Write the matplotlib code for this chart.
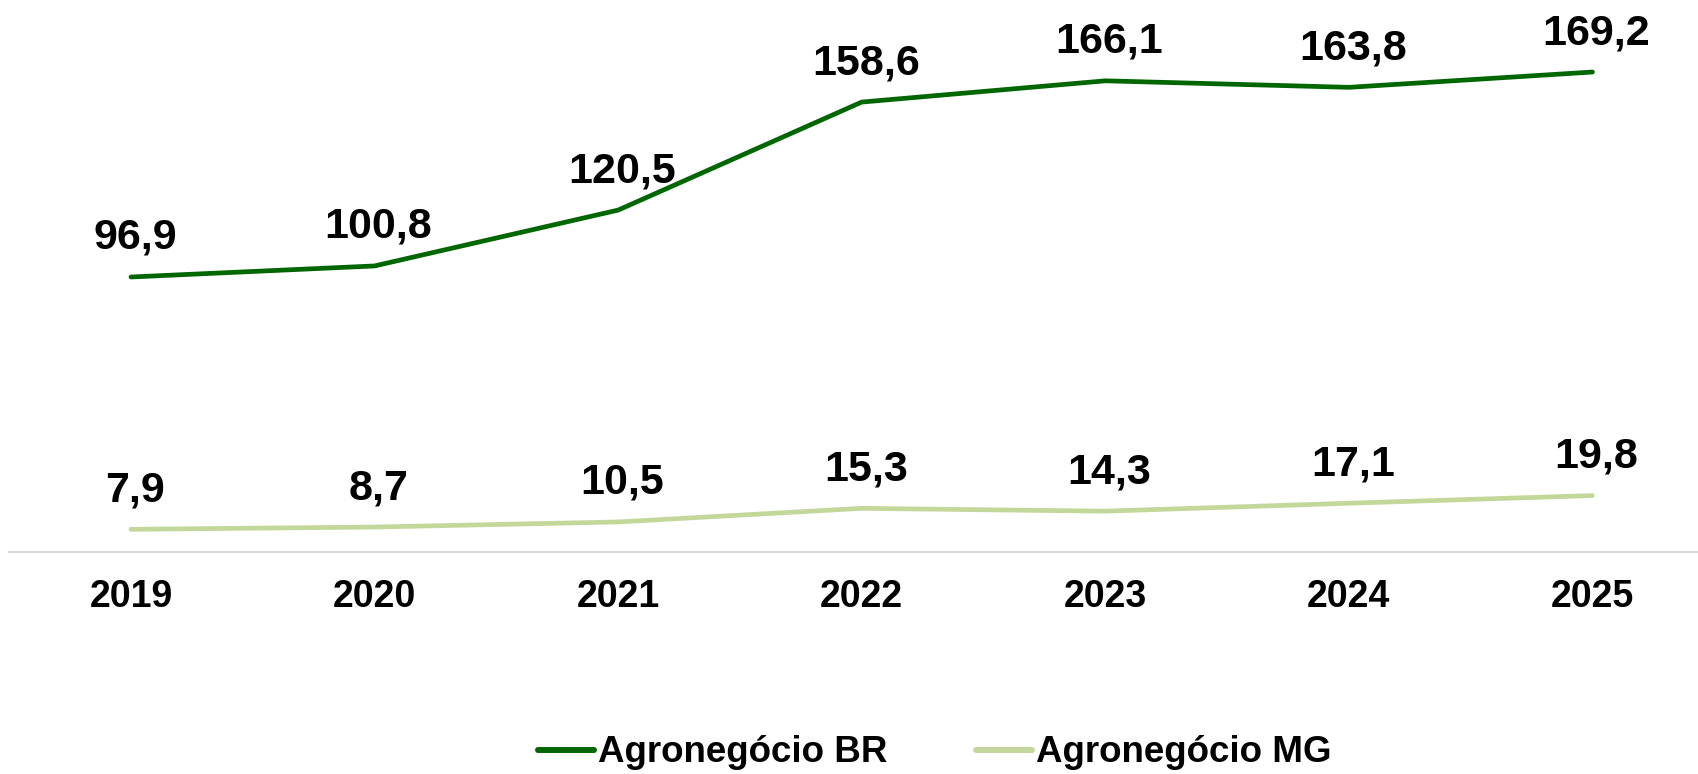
import matplotlib
matplotlib.use("Agg")
import matplotlib.pyplot as plt

years = ["2019", "2020", "2021", "2022", "2023", "2024", "2025"]
agro_br = [96.9, 100.8, 120.5, 158.6, 166.1, 163.8, 169.2]
agro_mg = [7.9, 8.7, 10.5, 15.3, 14.3, 17.1, 19.8]

DARK = "#006600"
LIGHT = "#C4D79B"

plt.rcParams["font.family"] = ["Liberation Sans", "DejaVu Sans"]
plt.rcParams["font.weight"] = "bold"

fig = plt.figure(figsize=(16.98, 7.74), dpi=100)
ax = fig.add_axes([9.2 / 1698, 0.2872, 1705 / 1698, 0.6593])

x = list(range(len(years)))
ax.plot(x, agro_br, color=DARK, lw=3.4, solid_capstyle="round", label="Agronegócio BR")
ax.plot(x, agro_mg, color=LIGHT, lw=3.4, solid_capstyle="round", label="Agronegócio MG")

def fmt(v):
    return f"{v:.1f}".replace(".", ",")

for series in (agro_br, agro_mg):
    for xi, v in zip(x, series):
        ax.annotate(fmt(v), (xi, v), xytext=(4, 28), textcoords="offset pixels",
                    ha="center", va="baseline", fontsize=31, fontweight="bold")

ax.set_xlim(-0.5, 6.5)
ax.set_ylim(0, 180)
ax.set_xticks(x)
ax.set_xticklabels(years, fontsize=27, fontweight="bold")
ax.tick_params(axis="x", length=0, pad=20)
ax.set_yticks([])
for side in ("left", "right", "top"):
    ax.spines[side].set_visible(False)
ax.spines["bottom"].set_color("#D9D9D9")
ax.spines["bottom"].set_linewidth(1.5)

leg = fig.legend(loc="center", bbox_to_anchor=(934.5 / 1698, 21 / 774), ncol=2,
                 frameon=False, fontsize=26.5, handlelength=1.52, handletextpad=0.11,
                 columnspacing=2.4, borderpad=0.1)
for line in leg.get_lines():
    line.set_linewidth(4.3)
    line.set_solid_capstyle("round")

fig.savefig("out.png", dpi=100)
